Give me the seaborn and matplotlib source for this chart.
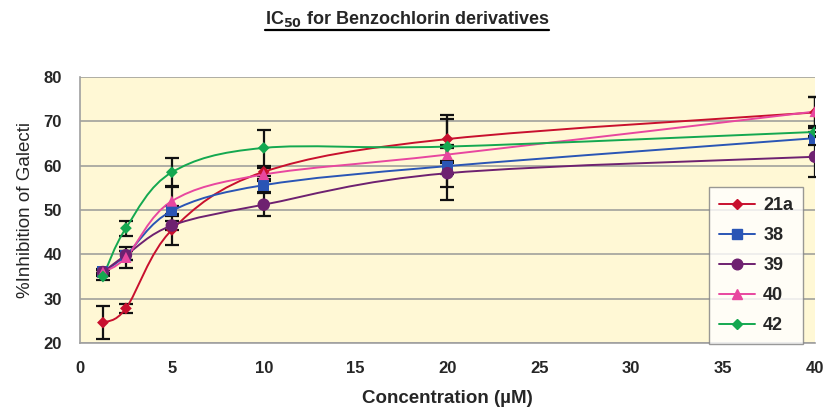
import numpy as np
import pandas as pd
import matplotlib
matplotlib.use('Agg')
import matplotlib.pyplot as plt
from matplotlib.path import Path
from matplotlib.patches import PathPatch
from matplotlib.lines import Line2D
import seaborn as sns

# data
conc = [1.25, 2.5, 5, 10, 20, 40]
compounds = ['21a', '38', '39', '40', '42']
inh_21a = [24.6, 27.8, 45.5, 58.6, 66.0, 72.0]
inh_38 = [36.0, 39.8, 49.8, 55.6, 59.9, 66.2]
inh_39 = [36.0, 39.8, 46.5, 51.2, 58.3, 62.0]
inh_40 = [36.0, 39.3, 52.0, 58.0, 62.5, 72.2]
inh_42 = [35.0, 45.9, 58.5, 64.0, 64.3, 67.6]
err_21a = [3.8, 1.0, 3.5, 1.0, 5.5, 3.5]
err_38 = [0.8, 1.0, 1.0, 1.5, 4.7, 1.5]
err_39 = [0.5, 1.0, 1.0, 2.6, 6.0, 4.5]
err_40 = [0.5, 2.4, 3.4, 1.5, 1.5, 3.3]
err_42 = [0.8, 1.7, 3.3, 4.1, 6.2, 1.0]

colors = ['#c8102e', '#2a55b5', '#6e2170', '#e8479f', '#14a850']
markers = ['D', 's', 'o', '^', 'D']
msizes = [6, 8, 9, 8, 6]

values = [inh_21a, inh_38, inh_39, inh_40, inh_42]
errors = [err_21a, err_38, err_39, err_40, err_42]
df = pd.concat([pd.DataFrame({'conc': conc, 'inh': v, 'err': e, 'cmpd': c})
                for c, v, e in zip(compounds, values, errors)], ignore_index=True)

# setup
sns.set_style('white')
plt.rcParams['font.family'] = ['Liberation Sans', 'DejaVu Sans']

fig = plt.figure(figsize=(8.27, 4.17), dpi=100)
ax = fig.add_axes([0.0967, 0.1775, 0.8888, 0.6379])
ax.set_facecolor('#fff8d5')


def smooth_path(xs, ys):
    # excel style smoothed line, bezier through the points
    pts = np.column_stack([xs, ys]).astype(float)
    n = len(pts)
    verts = [pts[0]]
    codes = [Path.MOVETO]
    for i in range(n - 1):
        p0 = pts[max(i - 1, 0)]
        p1 = pts[i]
        p2 = pts[i + 1]
        p3 = pts[min(i + 2, n - 1)]
        c1 = p1 + (p2 - p0) / 6.0
        c2 = p2 - (p3 - p1) / 6.0
        verts += [c1, c2, p2]
        codes += [Path.CURVE4] * 3
    return Path(verts, codes)


# error bars
for c in compounds:
    sub = df[df.cmpd == c]
    ax.errorbar(sub.conc, sub.inh, yerr=sub.err, fmt='none', ecolor='#111111',
                elinewidth=1.6, capsize=5, capthick=1.6, zorder=2)

# smoothed lines
for c, col in zip(compounds, colors):
    sub = df[df.cmpd == c]
    ax.add_patch(PathPatch(smooth_path(sub.conc, sub.inh), facecolor='none',
                           edgecolor=col, lw=1.4, zorder=3))

# markers
sns.scatterplot(data=df, x='conc', y='inh', hue='cmpd', style='cmpd',
                palette=dict(zip(compounds, colors)),
                markers=dict(zip(compounds, markers)),
                size='cmpd', sizes=dict(zip(compounds, [s ** 2 for s in msizes])),
                edgecolor='none', legend=False, ax=ax, zorder=4)

ax.set_xlim(0, 40)
ax.set_ylim(20, 80)
ax.set_xticks(range(0, 41, 5))
ax.set_yticks(range(20, 81, 10))
ax.yaxis.grid(True, color='#a8a8a0', lw=1.3)
ax.set_axisbelow(True)
for s in ['top', 'right']:
    ax.spines[s].set_visible(False)
for s in ['left', 'bottom']:
    ax.spines[s].set_color('#a0a0a0')
    ax.spines[s].set_linewidth(1.2)
ax.tick_params(axis='both', direction='out', length=5, width=1.2, color='#a0a0a0',
               labelsize=12, pad=8)
for lab in ax.get_xticklabels() + ax.get_yticklabels():
    lab.set_fontweight('bold')

ax.set_xlabel('Concentration (\u00b5M)', fontsize=13.5, fontweight='bold', labelpad=10)
ax.set_ylabel('%Inhibition of Galecti', fontsize=13.5, labelpad=7)

handles = [Line2D([], [], color=col, marker=m, markersize=ms * 0.85, lw=1.4)
           for col, m, ms in zip(colors, markers, msizes)]
leg = ax.legend(handles, compounds, loc='upper left',
                bbox_to_anchor=(709 / 827, 1 - 187 / 417),
                bbox_transform=fig.transFigure, frameon=True, fancybox=False,
                prop={'weight': 'bold', 'size': 13}, handlelength=2.0,
                handletextpad=0.45, labelspacing=0.72, borderpad=0.55,
                borderaxespad=0)
leg.get_frame().set_edgecolor('#808080')
leg.get_frame().set_linewidth(1.0)
leg.set_zorder(10)

# title, underlined
title = fig.text(0.492, 0.955, 'IC$_{\\mathbf{50}}$ for Benzochlorin derivatives',
                 ha='center', va='center', fontsize=13, fontweight='bold')
fig.canvas.draw()
bb = title.get_window_extent().transformed(fig.transFigure.inverted())
fig.add_artist(Line2D([bb.x0, bb.x1], [bb.y0 - 0.004, bb.y0 - 0.004], color='black',
                      lw=1.6, transform=fig.transFigure))

fig.savefig('out.png', dpi=100)
